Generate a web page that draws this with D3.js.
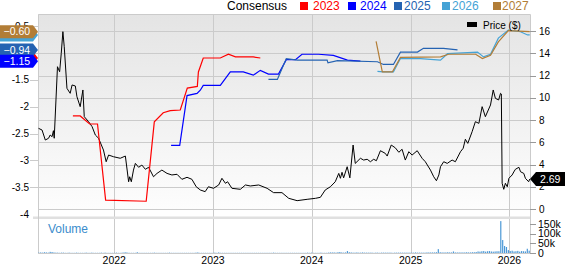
<!DOCTYPE html>
<html>
<head>
<meta charset="utf-8">
<script src="https://cdn.jsdelivr.net/npm/d3@7"></script>
<style>
  html, body { margin: 0; padding: 0; background: #fff; }
  svg { display: block; font-family: Arial, "Liberation Sans", sans-serif; }
</style>
</head>
<body>
<svg id="chart" width="565" height="264"></svg>
<script>
const WIDTH        = 565;
const HEIGHT       = 264;
const PLOT_LEFT    = 38;
const PLOT_RIGHT   = 530;
const MAIN_TOP     = 14;
const MAIN_BOTTOM  = 209;
const VOL_TOP      = 219;
const VOL_BOTTOM   = 253;

// consensus EPS estimates, one series per fiscal year
const eps2023 = [
    ['2021-08-01', -2.17], ['2021-08-28', -2.17], ['2021-10-02', -2.32], ['2021-10-31', -2.32],
    ['2021-11-30', -3.74], ['2022-04-29', -3.76], ['2022-05-29', -2.28], ['2022-07-01', -2.11],
    ['2022-07-27', -2.07], ['2022-09-02', -2.06], ['2022-09-28', -1.65], ['2022-11-04', -1.62],
    ['2022-11-08', -1.35], ['2022-11-26', -1.09], ['2023-01-28', -1.09], ['2023-02-27', -1.02],
    ['2023-03-25', -1.07], ['2023-05-30', -1.07], ['2023-06-25', -1.09]
];
const eps2024 = [
    ['2022-07-30', -2.72], ['2022-08-31', -2.72], ['2022-09-27', -1.79], ['2022-11-03', -1.75],
    ['2022-11-15', -1.69], ['2022-11-26', -1.60], ['2023-01-28', -1.60], ['2023-03-06', -1.35],
    ['2023-04-23', -1.35], ['2023-05-30', -1.41], ['2023-06-25', -1.32], ['2023-07-25', -1.39],
    ['2023-08-31', -1.39], ['2023-09-29', -1.12], ['2023-11-02', -1.12], ['2023-11-26', -1.02],
    ['2024-01-26', -1.02], ['2024-03-21', -1.04], ['2024-05-12', -1.13], ['2024-06-29', -1.15]
];
const eps2025 = [
    ['2023-07-25', -1.49], ['2023-08-27', -1.49], ['2023-09-29', -1.10], ['2023-11-09', -1.13],
    ['2024-02-27', -1.13], ['2024-03-01', -1.18], ['2024-04-05', -1.14], ['2024-08-31', -1.16],
    ['2024-09-22', -1.21], ['2024-10-29', -1.21], ['2024-11-24', -0.98], ['2025-01-26', -0.98],
    ['2025-02-17', -0.91], ['2025-05-02', -0.91], ['2025-06-23', -0.94]
];
const eps2026 = [
    ['2024-08-31', -1.34], ['2024-09-22', -1.35], ['2024-10-29', -1.35], ['2024-11-24', -1.10],
    ['2025-02-06', -1.10], ['2025-04-21', -1.13], ['2025-05-17', -1.01], ['2025-09-05', -0.98],
    ['2025-09-27', -1.07], ['2025-10-23', -1.02], ['2025-11-21', -0.72], ['2025-12-28', -0.57],
    ['2026-02-11', -0.60], ['2026-03-09', -0.66], ['2026-03-17', -0.66]
];
const eps2027 = [
    ['2024-08-26', -0.78], ['2024-09-18', -1.35], ['2024-10-25', -1.35], ['2024-11-24', -1.08],
    ['2025-04-21', -1.07], ['2025-05-21', -1.02], ['2025-08-29', -1.02], ['2025-09-23', -1.10],
    ['2025-10-23', -1.04], ['2025-11-21', -0.79], ['2025-12-28', -0.58], ['2026-03-17', -0.60]
];

// share price ($)
const priceSeries = [
    ['2021-03-27', 7.25], ['2021-04-09', 7.10], ['2021-04-21', 6.20], ['2021-05-03', 6.36],
    ['2021-05-09', 6.65], ['2021-05-16', 6.50], ['2021-05-21', 7.04], ['2021-05-24', 6.36],
    ['2021-06-05', 12.79], ['2021-06-13', 12.34], ['2021-06-19', 14.0], ['2021-06-25', 15.94],
    ['2021-06-30', 14.59], ['2021-07-10', 10.85], ['2021-07-22', 10.4], ['2021-07-29', 11.15],
    ['2021-08-10', 11.06], ['2021-08-16', 10.09], ['2021-08-28', 9.2], ['2021-09-07', 10.7],
    ['2021-09-12', 8.3], ['2021-09-28', 7.85], ['2021-10-11', 7.4], ['2021-10-23', 6.65],
    ['2021-11-04', 6.36], ['2021-11-22', 5.3], ['2021-12-02', 4.25], ['2021-12-11', 4.85],
    ['2021-12-29', 4.7], ['2022-01-23', 4.56], ['2022-02-11', 4.76], ['2022-02-23', 2.45],
    ['2022-02-27', 2.9], ['2022-03-05', 2.45], ['2022-03-13', 3.5], ['2022-03-20', 4.1],
    ['2022-04-01', 3.75], ['2022-04-13', 3.95], ['2022-04-26', 3.57], ['2022-05-08', 3.75],
    ['2022-05-26', 2.9], ['2022-06-08', 3.2], ['2022-06-26', 3.5], ['2022-07-15', 3.2],
    ['2022-08-02', 3.06], ['2022-08-21', 3.12], ['2022-09-08', 2.67], ['2022-09-27', 2.85],
    ['2022-10-15', 2.67], ['2022-10-31', 2.0], ['2022-11-15', 1.71], ['2022-12-03', 1.56],
    ['2022-12-15', 2.0], ['2023-01-03', 1.86], ['2023-01-22', 2.16], ['2023-02-03', 2.76],
    ['2023-02-16', 2.31], ['2023-02-24', 2.45], ['2023-03-12', 1.86], ['2023-04-12', 1.77],
    ['2023-05-01', 2.16], ['2023-05-19', 2.07], ['2023-06-19', 2.16], ['2023-07-20', 1.86],
    ['2023-08-13', 1.47], ['2023-09-13', 1.47], ['2023-10-08', 0.96], ['2023-11-08', 0.75],
    ['2023-12-15', 0.87], ['2024-01-15', 0.96], ['2024-02-02', 1.05], ['2024-02-20', 1.71],
    ['2024-03-10', 2.0], ['2024-03-28', 2.45], ['2024-04-10', 3.2], ['2024-04-16', 2.76],
    ['2024-04-22', 3.3], ['2024-04-28', 2.8], ['2024-05-11', 3.8], ['2024-05-21', 2.8],
    ['2024-06-02', 5.75], ['2024-06-10', 4.1], ['2024-06-29', 4.56], ['2024-07-11', 4.4],
    ['2024-07-24', 4.47], ['2024-08-05', 4.25], ['2024-08-17', 4.47], ['2024-08-27', 4.34],
    ['2024-09-11', 5.24], ['2024-09-29', 5.0], ['2024-10-06', 4.76], ['2024-10-21', 5.75],
    ['2024-11-05', 5.5], ['2024-11-18', 5.1], ['2024-11-30', 5.37], ['2024-12-12', 4.4],
    ['2024-12-25', 5.15], ['2025-01-06', 4.85], ['2025-01-25', 5.24], ['2025-02-12', 4.56],
    ['2025-02-24', 4.25], ['2025-03-15', 3.5], ['2025-03-27', 2.9], ['2025-04-06', 2.54],
    ['2025-04-15', 3.06], ['2025-04-21', 3.8], ['2025-05-03', 4.25], ['2025-05-16', 4.1],
    ['2025-06-03', 4.4], ['2025-06-15', 4.25], ['2025-07-04', 5.15], ['2025-07-14', 5.46],
    ['2025-07-22', 6.27], ['2025-07-31', 5.9], ['2025-08-16', 6.95], ['2025-08-28', 7.85],
    ['2025-09-10', 7.7], ['2025-09-22', 9.2], ['2025-10-04', 8.3], ['2025-10-23', 9.35],
    ['2025-11-02', 10.7], ['2025-11-10', 9.95], ['2025-11-22', 9.8], ['2025-11-29', 10.4],
    ['2025-12-02', 10.34], ['2025-12-05', 2.31], ['2025-12-11', 1.77], ['2025-12-17', 2.31],
    ['2025-12-24', 2.0], ['2025-12-30', 2.76], ['2026-01-11', 3.06], ['2026-01-17', 3.33],
    ['2026-01-23', 3.57], ['2026-02-05', 3.75], ['2026-02-11', 3.35], ['2026-02-23', 3.2],
    ['2026-03-01', 2.76], ['2026-03-13', 2.45], ['2026-03-17', 2.69]
];

// weekly volume (thousands of shares), weeks starting 2021-03-28
const volumeStart  = '2021-03-28';
const volumeWeekly = [
    2, 3, 2, 4, 3, 2, 6, 5, 3, 2, 2, 1, 2,
    2, 1, 1, 2, 1, 1, 1, 2, 1, 1, 1, 1, 2,
    1, 1, 2, 1, 1, 1, 1, 2, 1, 2, 1, 1, 1,
    1, 1, 2, 1, 1, 2, 3, 4, 2, 1, 1, 1, 1,
    4, 1, 1, 1, 1, 1, 1, 1, 1, 2, 1, 1, 1,
    1, 1, 1, 1, 2, 1, 1, 1, 1, 1, 1, 1, 1,
    1, 1, 1, 1, 1, 2, 3, 1, 1, 1, 1, 1, 1,
    1, 1, 2, 1, 3, 1, 1, 1, 1, 1, 1, 1, 1,
    1, 1, 1, 1, 1, 1, 1, 1, 1, 1, 1, 1, 1,
    1, 1, 1, 1, 1, 1, 1, 2, 1, 1, 1, 1, 1,
    1, 1, 1, 1, 1, 1, 1, 1, 1, 1, 1, 1, 2,
    1, 2, 1, 1, 1, 1, 2, 1, 1, 1, 2, 3, 3,
    3, 2, 4, 5, 3, 2, 3, 10, 4, 3, 2, 2, 3,
    2, 2, 3, 2, 2, 2, 2, 2, 1, 2, 2, 1, 2,
    2, 2, 2, 2, 2, 1, 2, 2, 2, 2, 2, 2, 2,
    2, 2, 2, 2, 3, 2, 2, 2, 2, 2, 3, 3, 3,
    3, 3, 4, 20, 4, 3, 3, 3, 4, 3, 3, 8, 3,
    3, 3, 3, 3, 3, 4, 3, 3, 4, 4, 5, 8, 7,
    9, 10, 7, 9, 10, 8, 7, 8, 9, 9, 165, 67, 36,
    31, 15, 10, 12, 8, 9, 11, 7, 10, 9, 8, 22, 12
];

const xDomain          = ['2021-03-25', '2026-03-18'];
const yearTicks        = [2022, 2023, 2024, 2025, 2026];
const priceTicks       = [0, 2, 4, 6, 8, 10, 12, 14, 16];
const epsTicks         = [-0.5, -1, -1.5, -2, -2.5, -3, -3.5, -4];
const volumeTicks      = [0, 50, 100, 150];
const volumeTickLabels = ['0', '50k', '100k', '150k'];

const consensus = [
    { year: '2023', data: eps2023 },
    { year: '2024', data: eps2024 },
    { year: '2025', data: eps2025 },
    { year: '2026', data: eps2026 },
    { year: '2027', data: eps2027 }
];

const COLORS = {
    '2023': '#ff0000',
    '2024': '#0000ff',
    '2025': '#2563b2',
    '2026': '#45a3d6',
    '2027': '#b27d36'
};
const GRID   = '#cbcbcb';
const VOLUME = '#4b98d6';

const parse = d3.timeParse('%Y-%m-%d');

const svg = d3.select('#chart');

const x = d3.scaleTime()
    .domain(xDomain.map(parse))
    .range([PLOT_LEFT, PLOT_RIGHT]);
const yPrice = d3.scaleLinear()
    .domain([0, 17.53])
    .range([MAIN_BOTTOM, MAIN_TOP]);
const yEps = d3.scaleLinear()
    .domain([-3.9045, -0.2698])
    .range([MAIN_BOTTOM, MAIN_TOP]);
const yVol = d3.scaleLinear()
    .domain([0, 150])
    .range([VOL_BOTTOM, 224]);

// background gradient of the main panel
const defs = svg.append('defs');
const grad = defs.append('linearGradient')
    .attr('id', 'bg')
    .attr('x1', 0).attr('y1', 0).attr('x2', 0).attr('y2', 1);
grad.append('stop').attr('offset', '0%').attr('stop-color', '#e4e4e4');
grad.append('stop').attr('offset', '100%').attr('stop-color', '#fdfdfd');

defs.append('clipPath').attr('id', 'clipMain')
    .append('rect')
    .attr('x', PLOT_LEFT).attr('y', MAIN_TOP)
    .attr('width', PLOT_RIGHT - PLOT_LEFT).attr('height', MAIN_BOTTOM - MAIN_TOP);

svg.append('rect')
    .attr('x', PLOT_LEFT).attr('y', MAIN_TOP)
    .attr('width', PLOT_RIGHT - PLOT_LEFT).attr('height', MAIN_BOTTOM - MAIN_TOP)
    .attr('fill', 'url(#bg)');

// horizontal grid follows the price axis
svg.append('g')
    .selectAll('line')
    .data(priceTicks)
    .join('line')
    .attr('x1', PLOT_LEFT).attr('x2', PLOT_RIGHT)
    .attr('y1', d => Math.round(yPrice(d)) + 0.5)
    .attr('y2', d => Math.round(yPrice(d)) + 0.5)
    .attr('stroke', GRID);

// vertical grid at year starts, both panels
const yearX = d => Math.round(x(new Date(d, 0, 1))) + 0.5;
svg.append('g')
    .selectAll('line')
    .data(yearTicks)
    .join('line')
    .attr('x1', yearX).attr('x2', yearX)
    .attr('y1', MAIN_TOP).attr('y2', VOL_BOTTOM)
    .attr('stroke', GRID);

// separator between price and volume panels
svg.append('rect')
    .attr('x', 33).attr('y', 216.5)
    .attr('width', PLOT_RIGHT - 33).attr('height', 2.5)
    .attr('fill', '#e0e0e0');

// panel borders
svg.append('path')
    .attr('d', `M${PLOT_LEFT + 0.5},${VOL_BOTTOM + 0.5}V${MAIN_TOP + 0.5}H${PLOT_RIGHT + 0.5}V${VOL_BOTTOM + 0.5}`)
    .attr('fill', 'none')
    .attr('stroke', GRID);
svg.append('line')
    .attr('x1', PLOT_LEFT).attr('x2', PLOT_RIGHT + 1)
    .attr('y1', VOL_BOTTOM + 0.5).attr('y2', VOL_BOTTOM + 0.5)
    .attr('stroke', GRID);

// volume bars
const volStartDate = parse(volumeStart);
svg.append('g')
    .selectAll('rect')
    .data(volumeWeekly)
    .join('rect')
    .attr('x', (d, i) => x(d3.timeWeek.offset(volStartDate, i)) - 0.6)
    .attr('width', 1.2)
    .attr('y', d => yVol(d))
    .attr('height', d => VOL_BOTTOM - yVol(d))
    .attr('fill', VOLUME);

svg.append('text')
    .attr('x', 48).attr('y', 233)
    .attr('font-size', 12)
    .attr('fill', '#3a8ccc')
    .text('Volume');

// price line
const plot = svg.append('g').attr('clip-path', 'url(#clipMain)');

const priceLine = d3.line()
    .x(d => x(parse(d[0])))
    .y(d => yPrice(d[1]));

plot.append('path')
    .datum(priceSeries)
    .attr('d', priceLine)
    .attr('fill', 'none')
    .attr('stroke', '#000')
    .attr('stroke-width', 1)
    .attr('stroke-linejoin', 'round');

// consensus lines
const epsLine = d3.line()
    .x(d => x(parse(d[0])))
    .y(d => yEps(d[1]));

plot.selectAll('path.eps')
    .data(consensus)
    .join('path')
    .attr('class', 'eps')
    .attr('d', d => epsLine(d.data))
    .attr('fill', 'none')
    .attr('stroke', d => COLORS[d.year])
    .attr('stroke-width', 1.2);

// left axis (EPS)
const leftAxis = svg.append('g').attr('font-size', 10).attr('fill', '#000');
leftAxis.selectAll('line')
    .data(epsTicks.filter(d => yEps(d) <= MAIN_BOTTOM))
    .join('line')
    .attr('x1', 30).attr('x2', PLOT_LEFT)
    .attr('y1', d => Math.round(yEps(d)) + 0.5)
    .attr('y2', d => Math.round(yEps(d)) + 0.5)
    .attr('stroke', GRID);
leftAxis.selectAll('text')
    .data(epsTicks)
    .join('text')
    .attr('x', 29)
    .attr('y', d => yEps(d))
    .attr('dy', '0.35em')
    .attr('text-anchor', 'end')
    .text(d => d);

// right axis (price)
const rightAxis = svg.append('g').attr('font-size', 10).attr('fill', '#000');
rightAxis.selectAll('line')
    .data(priceTicks)
    .join('line')
    .attr('x1', PLOT_RIGHT).attr('x2', PLOT_RIGHT + 6)
    .attr('y1', d => Math.round(yPrice(d)) + 0.5)
    .attr('y2', d => Math.round(yPrice(d)) + 0.5)
    .attr('stroke', '#999');
rightAxis.selectAll('text')
    .data(priceTicks)
    .join('text')
    .attr('x', PLOT_RIGHT + 9)
    .attr('y', d => yPrice(d))
    .attr('dy', '0.35em')
    .text(d => d);

// right axis (volume)
const volAxis = svg.append('g').attr('font-size', 10.5).attr('fill', '#000');
volAxis.selectAll('line')
    .data(volumeTicks)
    .join('line')
    .attr('x1', PLOT_RIGHT).attr('x2', PLOT_RIGHT + 6)
    .attr('y1', d => Math.round(yVol(d)) + 0.5)
    .attr('y2', d => Math.round(yVol(d)) + 0.5)
    .attr('stroke', '#999');
volAxis.selectAll('text')
    .data(volumeTicks)
    .join('text')
    .attr('x', PLOT_RIGHT + 8)
    .attr('y', d => yVol(d))
    .attr('dy', '0.35em')
    .text((d, i) => volumeTickLabels[i]);

// year labels
svg.append('g')
    .attr('font-size', 10.5)
    .selectAll('text')
    .data(yearTicks)
    .join('text')
    .attr('x', d => x(new Date(d, 0, 1)))
    .attr('y', 263.5)
    .attr('text-anchor', 'middle')
    .text(d => d);

// last-value flags on the left, drawn in overlap order;
// the 2023 and 2026 flags sit underneath and show no text
const fmt = d3.format('.2f');
const flag = (cy, xLeft, xBody, xTip, h) =>
    `M${xLeft},${cy - h}H${xBody}L${xTip},${cy}L${xBody},${cy + h}H${xLeft}Z`;

const flagOrder   = ['2023', '2026', '2025', '2024', '2027'];
const flagHidden  = ['2023', '2026'];
const flags = svg.append('g');
flagOrder.forEach(year => {
    const s = consensus.find(c => c.year === year);
    const v = s.data[s.data.length - 1][1];
    const cy = yEps(v);
    flags.append('path')
        .attr('d', flag(cy, 0, 33, 38, 6.5))
        .attr('fill', COLORS[year]);
    if (flagHidden.includes(year)) return;
    flags.append('text')
        .attr('x', 3.5).attr('y', cy)
        .attr('dy', '0.36em')
        .attr('font-size', 10.5)
        .attr('fill', '#fff')
        .text(fmt(v));
});

// last price flag on the right
const lastPrice = priceSeries[priceSeries.length - 1][1];
const py = yPrice(lastPrice);
svg.append('path')
    .attr('d', `M${PLOT_RIGHT},${py}L${PLOT_RIGHT + 6},${py - 7}H${WIDTH}V${py + 7}H${PLOT_RIGHT + 6}Z`)
    .attr('fill', '#000');
svg.append('text')
    .attr('x', PLOT_RIGHT + 10).attr('y', py)
    .attr('dy', '0.36em')
    .attr('font-size', 10.5)
    .attr('fill', '#fff')
    .text(fmt(lastPrice));

// legend
const legendPos = [
    { year: '2023', box: 300, text: 313 },
    { year: '2024', box: 348, text: 360 },
    { year: '2025', box: 394, text: 404 },
    { year: '2026', box: 442, text: 452 },
    { year: '2027', box: 493, text: 502 }
];

svg.append('text')
    .attr('x', 227).attr('y', 10)
    .attr('font-size', 12)
    .attr('fill', '#000')
    .text('Consensus');

const legend = svg.append('g').attr('font-size', 12);
legendPos.forEach(p => {
    legend.append('rect')
        .attr('x', p.box).attr('y', 2)
        .attr('width', 8).attr('height', 8)
        .attr('fill', COLORS[p.year]);
    legend.append('text')
        .attr('x', p.text).attr('y', 10)
        .attr('fill', COLORS[p.year])
        .text(p.year);
});

svg.append('rect')
    .attr('x', 467).attr('y', 22)
    .attr('width', 10).attr('height', 5)
    .attr('fill', '#000');
svg.append('text')
    .attr('x', 483).attr('y', 29)
    .attr('font-size', 10)
    .attr('fill', '#000')
    .text('Price ($)');
</script>
</body>
</html>
